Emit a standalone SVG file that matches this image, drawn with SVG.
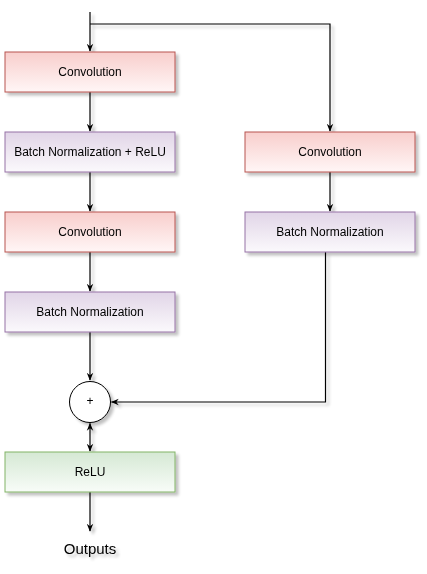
<svg xmlns="http://www.w3.org/2000/svg" width="427" height="574" viewBox="0 0 427 574">
<defs>
<linearGradient id="gRed" x1="0" y1="0" x2="0" y2="1"><stop offset="0" stop-color="#f8cecc"/><stop offset="1" stop-color="#fff6f6"/></linearGradient>
<linearGradient id="gPur" x1="0" y1="0" x2="0" y2="1"><stop offset="0" stop-color="#e1d5e7"/><stop offset="1" stop-color="#fbf9fc"/></linearGradient>
<linearGradient id="gGrn" x1="0" y1="0" x2="0" y2="1"><stop offset="0" stop-color="#d5e8d4"/><stop offset="1" stop-color="#f8fcf8"/></linearGradient>
<filter id="sh" x="-20%" y="-30%" width="140%" height="170%">
<feGaussianBlur in="SourceAlpha" stdDeviation="1.5"/>
<feOffset dx="3" dy="3" result="o"/>
<feComponentTransfer><feFuncA type="linear" slope="0.25"/></feComponentTransfer>
<feMerge><feMergeNode/><feMergeNode in="SourceGraphic"/></feMerge>
</filter>
<marker id="arr" viewBox="0 0 10 10" refX="9" refY="5" markerWidth="8" markerHeight="8" orient="auto-start-reverse" markerUnits="userSpaceOnUse">
<path d="M0,1 L10,5 L0,9 L3,5 Z" fill="#000"/>
</marker>
</defs>
<style>
.red{fill:url(#gRed);stroke:#b85450;stroke-width:1}
.pur{fill:url(#gPur);stroke:#9673a6;stroke-width:1}
.grn{fill:url(#gGrn);stroke:#82b366;stroke-width:1}
.t{font-family:"Liberation Sans",Arial,sans-serif;font-size:12px;fill:#000;text-anchor:middle;dominant-baseline:central}
.e{fill:none;stroke:#000;stroke-width:1.2}
</style>
<g id="edges" filter="url(#sh)">
<path class="e" d="M90,12 L90,51" marker-end="url(#arr)"/>
<path class="e" d="M90,24 L330,24 L330,131" marker-end="url(#arr)"/>
<path class="e" d="M90,92 L90,131" marker-end="url(#arr)"/>
<path class="e" d="M90,172 L90,211" marker-end="url(#arr)"/>
<path class="e" d="M90,252 L90,291" marker-end="url(#arr)"/>
<path class="e" d="M90,332 L90,380" marker-end="url(#arr)"/>
<path class="e" d="M330,172 L330,211" marker-end="url(#arr)"/>
<path class="e" d="M325.5,252 L325.5,402 L111.5,402" marker-end="url(#arr)"/>
<path class="e" d="M90,423.5 L90,451" marker-start="url(#arr)" marker-end="url(#arr)"/>
<path class="e" d="M90,492 L90,531" marker-end="url(#arr)"/>
</g>
<g id="conv1" filter="url(#sh)"><rect class="red" x="5" y="52" width="170" height="40"/><text class="t" x="90" y="72">Convolution</text></g>
<g id="bnrelu" filter="url(#sh)"><rect class="pur" x="5" y="132" width="170" height="40"/><text class="t" x="90" y="152">Batch Normalization + ReLU</text></g>
<g id="conv2" filter="url(#sh)"><rect class="red" x="5" y="212" width="170" height="40"/><text class="t" x="90" y="232">Convolution</text></g>
<g id="bn1" filter="url(#sh)"><rect class="pur" x="5" y="292" width="170" height="40"/><text class="t" x="90" y="312">Batch Normalization</text></g>
<g id="conv3" filter="url(#sh)"><rect class="red" x="245" y="132" width="170" height="40"/><text class="t" x="330" y="152">Convolution</text></g>
<g id="bn2" filter="url(#sh)"><rect class="pur" x="245" y="212" width="170" height="40"/><text class="t" x="330" y="232">Batch Normalization</text></g>
<g id="add" filter="url(#sh)"><circle cx="90" cy="402" r="20.5" fill="#fff" stroke="#000" stroke-width="1"/><text class="t" x="90" y="401">+</text></g>
<g id="relu" filter="url(#sh)"><rect class="grn" x="5" y="452" width="170" height="40"/><text class="t" x="90" y="472">ReLU</text></g>
<g id="outputs" filter="url(#sh)"><text class="t" x="90" y="548" style="font-size:15px">Outputs</text></g>
</svg>
